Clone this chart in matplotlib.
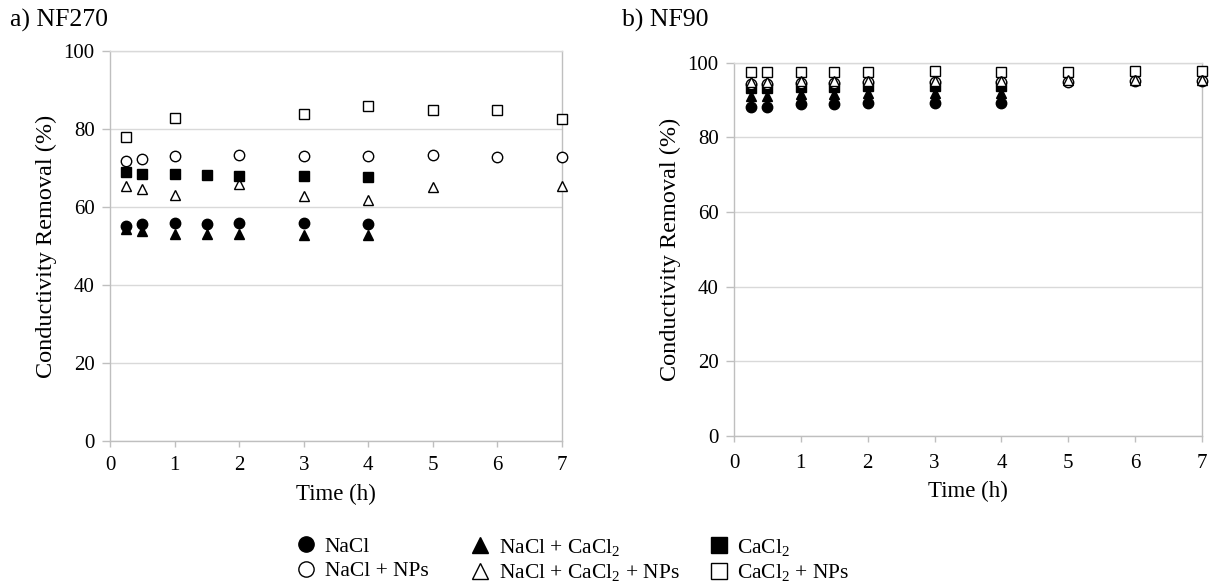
import matplotlib
matplotlib.use("Agg")
import matplotlib.pyplot as plt
from matplotlib.lines import Line2D

plt.rcParams["font.family"] = ["Liberation Serif", "DejaVu Serif"]
plt.rcParams["mathtext.fontset"] = "custom"
plt.rcParams["mathtext.rm"] = "Liberation Serif"
plt.rcParams["mathtext.it"] = "Liberation Serif:italic"
plt.rcParams["mathtext.default"] = "regular"

# Sampling times (h)
t_salt = [0.25, 0.5, 1, 1.5, 2, 3, 4]
t_all = [0.25, 0.5, 1, 1.5, 2, 3, 4, 5, 6, 7]

# NF270 conductivity removal (%)
nf270_t_nacl_np = [0.25, 0.5, 1, 2, 3, 4, 5, 6, 7]
nf270_t_mix_np = [0.25, 0.5, 1, 2, 3, 4, 5, 7]
nf270_t_cacl2_np = [0.25, 1, 3, 4, 5, 6, 7]
nf270_nacl = [55.2, 55.6, 55.8, 55.7, 55.8, 56.0, 55.6]
nf270_mix = [54.3, 53.8, 53.2, 53.2, 53.0, 52.8, 52.8]
nf270_cacl2 = [68.9, 68.5, 68.5, 68.1, 67.9, 67.9, 67.7]
nf270_nacl_np = [71.7, 72.4, 73.0, 73.4, 73.2, 73.0, 73.4, 72.8, 72.8]
nf270_mix_np = [65.5, 64.7, 63.2, 66.0, 62.8, 61.8, 65.1, 65.5]
nf270_cacl2_np = [78.0, 82.8, 83.9, 86.0, 84.9, 84.9, 82.6]

# NF90 conductivity removal (%)
nf90_nacl = [88.2, 88.2, 89.0, 89.0, 89.3, 89.3, 89.3]
nf90_mix = [91.0, 91.0, 91.5, 91.5, 91.8, 91.8, 91.8]
nf90_cacl2 = [93.2, 93.2, 93.5, 93.5, 93.8, 93.8, 93.8]
nf90_nacl_np = [94.2, 94.2, 94.5, 94.5, 94.7, 94.8, 94.8, 94.9, 95.0, 95.1]
nf90_mix_np = [94.8, 94.8, 95.0, 95.0, 95.2, 95.2, 95.2, 95.3, 95.3, 95.3]
nf90_cacl2_np = [97.4, 97.5, 97.5, 97.4, 97.6, 97.8, 97.6, 97.6, 97.7, 97.7]

labels = ["NaCl", "NaCl + CaCl$_2$", "CaCl$_2$",
          "NaCl + NPs", "NaCl + CaCl$_2$ + NPs", "CaCl$_2$ + NPs"]
markers = ["o", "^", "s", "o", "^", "s"]
filled = [True, True, True, False, False, False]
msizes = [7.5, 7.5, 7.0, 7.5, 7.5, 7.0]

GRID = "#d9d9d9"
AXC = "#bfbfbf"

fig = plt.figure(figsize=(12.16, 5.86), dpi=100)
ax1 = fig.add_axes([0.0905, 0.2474, 0.3717, 0.6655])
ax2 = fig.add_axes([0.6036, 0.2560, 0.3849, 0.6370])

series1 = [(t_salt, nf270_nacl), (t_salt, nf270_mix), (t_salt, nf270_cacl2),
           (nf270_t_nacl_np, nf270_nacl_np), (nf270_t_mix_np, nf270_mix_np),
           (nf270_t_cacl2_np, nf270_cacl2_np)]
series2 = [(t_salt, nf90_nacl), (t_salt, nf90_mix), (t_salt, nf90_cacl2),
           (t_all, nf90_nacl_np), (t_all, nf90_mix_np), (t_all, nf90_cacl2_np)]


def style(i):
    return dict(marker=markers[i], linestyle="none", markersize=msizes[i],
                markerfacecolor="black" if filled[i] else "white",
                markeredgecolor="black", markeredgewidth=1.0, clip_on=False)


for ax, series, order, xpad in ((ax1, series1, [3, 4, 5, 2, 1, 0], 7),
                                (ax2, series2, [2, 1, 0, 5, 3, 4], 9)):
    for k, i in enumerate(order):
        x, y = series[i]
        ax.plot(x, y, zorder=3 + k * 0.1, **style(i))
    ax.set_xlim(0, 7)
    ax.set_ylim(0, 100)
    ax.set_xticks(range(0, 8))
    ax.set_yticks(range(0, 101, 20))
    ax.grid(axis="y", color=GRID, linewidth=1.0, zorder=0)
    ax.set_axisbelow(True)
    for s in ax.spines.values():
        s.set_color(AXC)
        s.set_linewidth(1.0)
    ax.spines["top"].set_color(GRID)
    ax.tick_params(axis="both", direction="out", width=1.0,
                   color=AXC, labelsize=15)
    ax.tick_params(axis="y", length=6, pad=5)
    ax.tick_params(axis="x", length=4, pad=xpad)
    ax.set_xlabel("Time (h)", fontsize=16.5, labelpad=6)
    ax.set_ylabel("Conductivity Removal (%)", fontsize=17.5, labelpad=5)

fig.text(0.008, 0.985, "a) NF270", fontsize=18.5, va="top", ha="left")
fig.text(0.5115, 0.985, "b) NF90", fontsize=18.5, va="top", ha="left")

# legend laid out as three columns of two entries
col_x = [0.244, 0.387, 0.583]
for c in range(3):
    handles = []
    for i in (c, c + 3):
        handles.append(Line2D([], [], marker=markers[i], linestyle="none",
                              markersize=11,
                              markerfacecolor="black" if filled[i] else "white",
                              markeredgecolor="black", markeredgewidth=1.0))
    fig.legend(handles, [labels[c], labels[c + 3]], loc="upper left",
               bbox_to_anchor=(col_x[c], 0.084), frameon=False,
               fontsize=15.5, handlelength=0.9, handletextpad=0.4,
               labelspacing=0.2, borderaxespad=0, borderpad=0)

fig.savefig("out.png", dpi=100)
